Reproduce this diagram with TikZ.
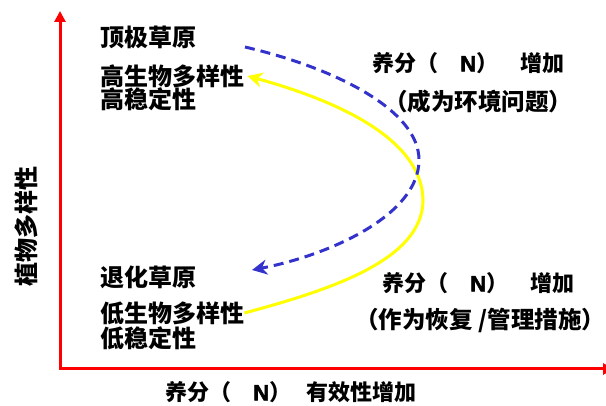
\documentclass[tikz,border=0pt]{standalone}
\usepackage{fontspec}
\setmainfont{Noto Sans CJK SC}
\newfontfamily\latinbold{Liberation Sans Bold}[FakeBold=2.5]
\newcommand{\Nsym}{{\latinbold N}}
\usetikzlibrary{arrows.meta}
\definecolor{axisred}{RGB}{255,0,0}
\definecolor{curveyellow}{RGB}{255,255,0}
\definecolor{curveblue}{RGB}{51,51,204}
\begin{document}
\begin{tikzpicture}[x=1pt,y=-1pt,
  lbl/.style={inner sep=0pt, anchor=west, font=\fontsize{24}{24}\selectfont\bfseries},
  rlbl/.style={inner sep=0pt, anchor=west, font=\fontsize{22}{22}\selectfont\bfseries},
  plbl/.style={inner sep=0pt, anchor=west, font=\fontsize{23.5}{24}\selectfont\bfseries},
  axis/.style={draw=axisred, line width=3pt, line cap=rect, -{Triangle[length=11pt,width=11pt]}},
  ycurve/.style={draw=curveyellow, line width=3pt, -{Stealth[length=15pt,width=15pt]}},
  bcurve/.style={draw=curveblue, line width=3pt, dash pattern=on 10pt off 6pt, -{Stealth[length=15pt,width=15pt]}},
]
\useasboundingbox[fill=white] (0,0) rectangle (606,406);
% axes
\coordinate (o) at (60,369);
\coordinate (ytip) at (60,11);
\coordinate (xtip) at (614,369);
\draw[axis] (o) -- (ytip);
\draw[axis] (o) -- (xtip);
% left labels
\node[lbl] (climax) at (100,37) {顶极草原};
\node[lbl] (highbio) at (100,76) {高生物多样性};
\node[lbl] (highstab) at (100,99) {高稳定性};
\node[lbl] (degraded) at (100,277) {退化草原};
\node[lbl] (lowbio) at (100,313) {低生物多样性};
\node[lbl] (lowstab) at (100,338) {低稳定性};
% right labels
\node[rlbl] (ntop) at (372,63) {养分（\hspace{1em}\Nsym）\hspace{1em}增加};
\node[plbl] (envprob) at (384,102) {（成为环境问题）};
\node[rlbl] (nbot) at (382,283) {养分（\hspace{1em}\Nsym）\hspace{1em}增加};
\node[plbl] (restore) at (355,320) {（作为恢复\hspace{0.25em}/管理措施）};
% axis labels
\node[rlbl] (xlabel) at (165,392) {养分（\hspace{1em}\Nsym）\hspace{0.7em}有效性增加};
\node[inner sep=0pt, font=\fontsize{24}{24}\selectfont\bfseries, rotate=90] (ylabel) at (26,227) {植物多样性};
% curves
\draw[ycurve] (lowbio.east) .. controls (330,290) and (423,260) .. (423,200)
  .. controls (422,138) and (335,100) .. ([xshift=3pt]highbio.east);
\coordinate (bstart) at (245,47);
\coordinate (bend) at (252,270);
\draw[bcurve] (bstart) .. controls (335,68) and (419,110) .. (419,160)
  .. controls (419,215) and (330,255) .. (bend);
\end{tikzpicture}
\end{document}
